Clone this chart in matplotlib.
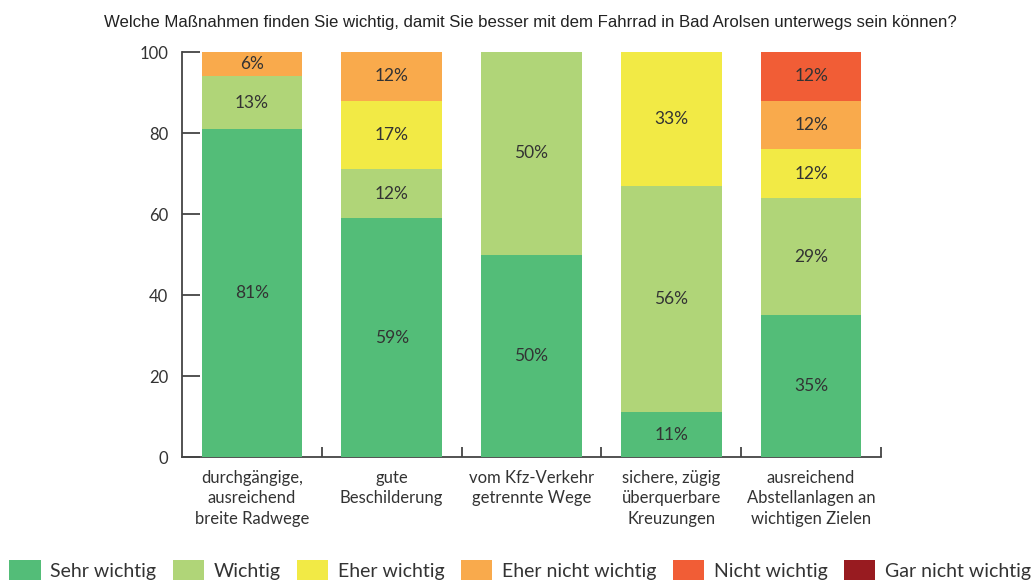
import numpy as np
import matplotlib.pyplot as plt
from matplotlib.patches import Patch

# Daten
kategorien = ["durchgängige,\nausreichend\nbreite Radwege", "gute\nBeschilderung",
              "vom Kfz-Verkehr\ngetrennte Wege", "sichere, zügig\nüberquerbare\nKreuzungen",
              "ausreichend\nAbstellanlagen an\nwichtigen Zielen"]
antworten = ["Sehr wichtig", "Wichtig", "Eher wichtig", "Eher nicht wichtig",
             "Nicht wichtig", "Gar nicht wichtig"]
sehr_wichtig = [81, 59, 50, 11, 35]
wichtig = [13, 12, 50, 56, 29]
eher_wichtig = [0, 17, 0, 33, 12]
eher_nicht_wichtig = [6, 12, 0, 0, 12]
nicht_wichtig = [0, 0, 0, 0, 12]
gar_nicht_wichtig = [0, 0, 0, 0, 0]
farben = ["#53bd78", "#b0d578", "#f2ea45", "#f9aa4c", "#f15d36", "#981b20"]

werte = [sehr_wichtig, wichtig, eher_wichtig, eher_nicht_wichtig, nicht_wichtig, gar_nicht_wichtig]

plt.rcParams['font.family'] = ['Lato', 'DejaVu Sans']
textfarbe = "#333333"

fig = plt.figure(figsize=(10.34, 5.81), dpi=100)
ax = fig.add_axes([0.176, 0.2134, 0.676, 0.697])

x = np.arange(len(kategorien))
unten = np.zeros(len(kategorien))
for serie, farbe in zip(werte, farben):
    serie = np.array(serie, dtype=float)
    bars = ax.bar(x, serie, 0.72, bottom=unten, color=farbe, zorder=3)
    for b, v, u in zip(bars, serie, unten):
        if v > 0:
            ax.text(b.get_x() + b.get_width() / 2, u + v / 2, f"{int(v)}%",
                    ha='center', va='center', fontsize=12.5, color=textfarbe, zorder=4)
    unten += serie

ax.set_xlim(-0.5, 4.5)
ax.set_ylim(0, 100)
ax.spines['top'].set_visible(False)
ax.spines['right'].set_visible(False)
for s in ['left', 'bottom']:
    ax.spines[s].set_color('#444444')
    ax.spines[s].set_linewidth(1.3)

ax.set_yticks([0, 20, 40, 60, 80, 100])
ax.tick_params(axis='y', direction='in', length=13, width=1.3, color='#444444',
               labelsize=12, labelcolor=textfarbe, pad=10)
ax.set_xticks(x + 0.5)
ax.set_xticklabels([])
ax.tick_params(axis='x', which='major', direction='in', length=7, width=1.3, color='#444444')
ax.set_xticks(x, minor=True)
ax.set_xticklabels(kategorien, minor=True, fontsize=12, color=textfarbe, linespacing=1.35)
ax.tick_params(axis='x', which='minor', length=0, pad=9)

fig.text(0.513, 0.962, "Welche Maßnahmen finden Sie wichtig, damit Sie besser mit dem Fahrrad in Bad Arolsen unterwegs sein können?",
         ha='center', va='center', fontsize=12.1, family='Liberation Sans', color='#222222')

handles = [Patch(facecolor=f, edgecolor='none') for f in farben]
fig.legend(handles, antworten, loc='lower left', bbox_to_anchor=(-0.004, -0.022), ncol=6,
           frameon=False, fontsize=14, handlelength=1.6, handleheight=1.2,
           handletextpad=0.5, columnspacing=0.85, borderpad=0.2, labelcolor=textfarbe)

fig.savefig("out.png", dpi=100)
